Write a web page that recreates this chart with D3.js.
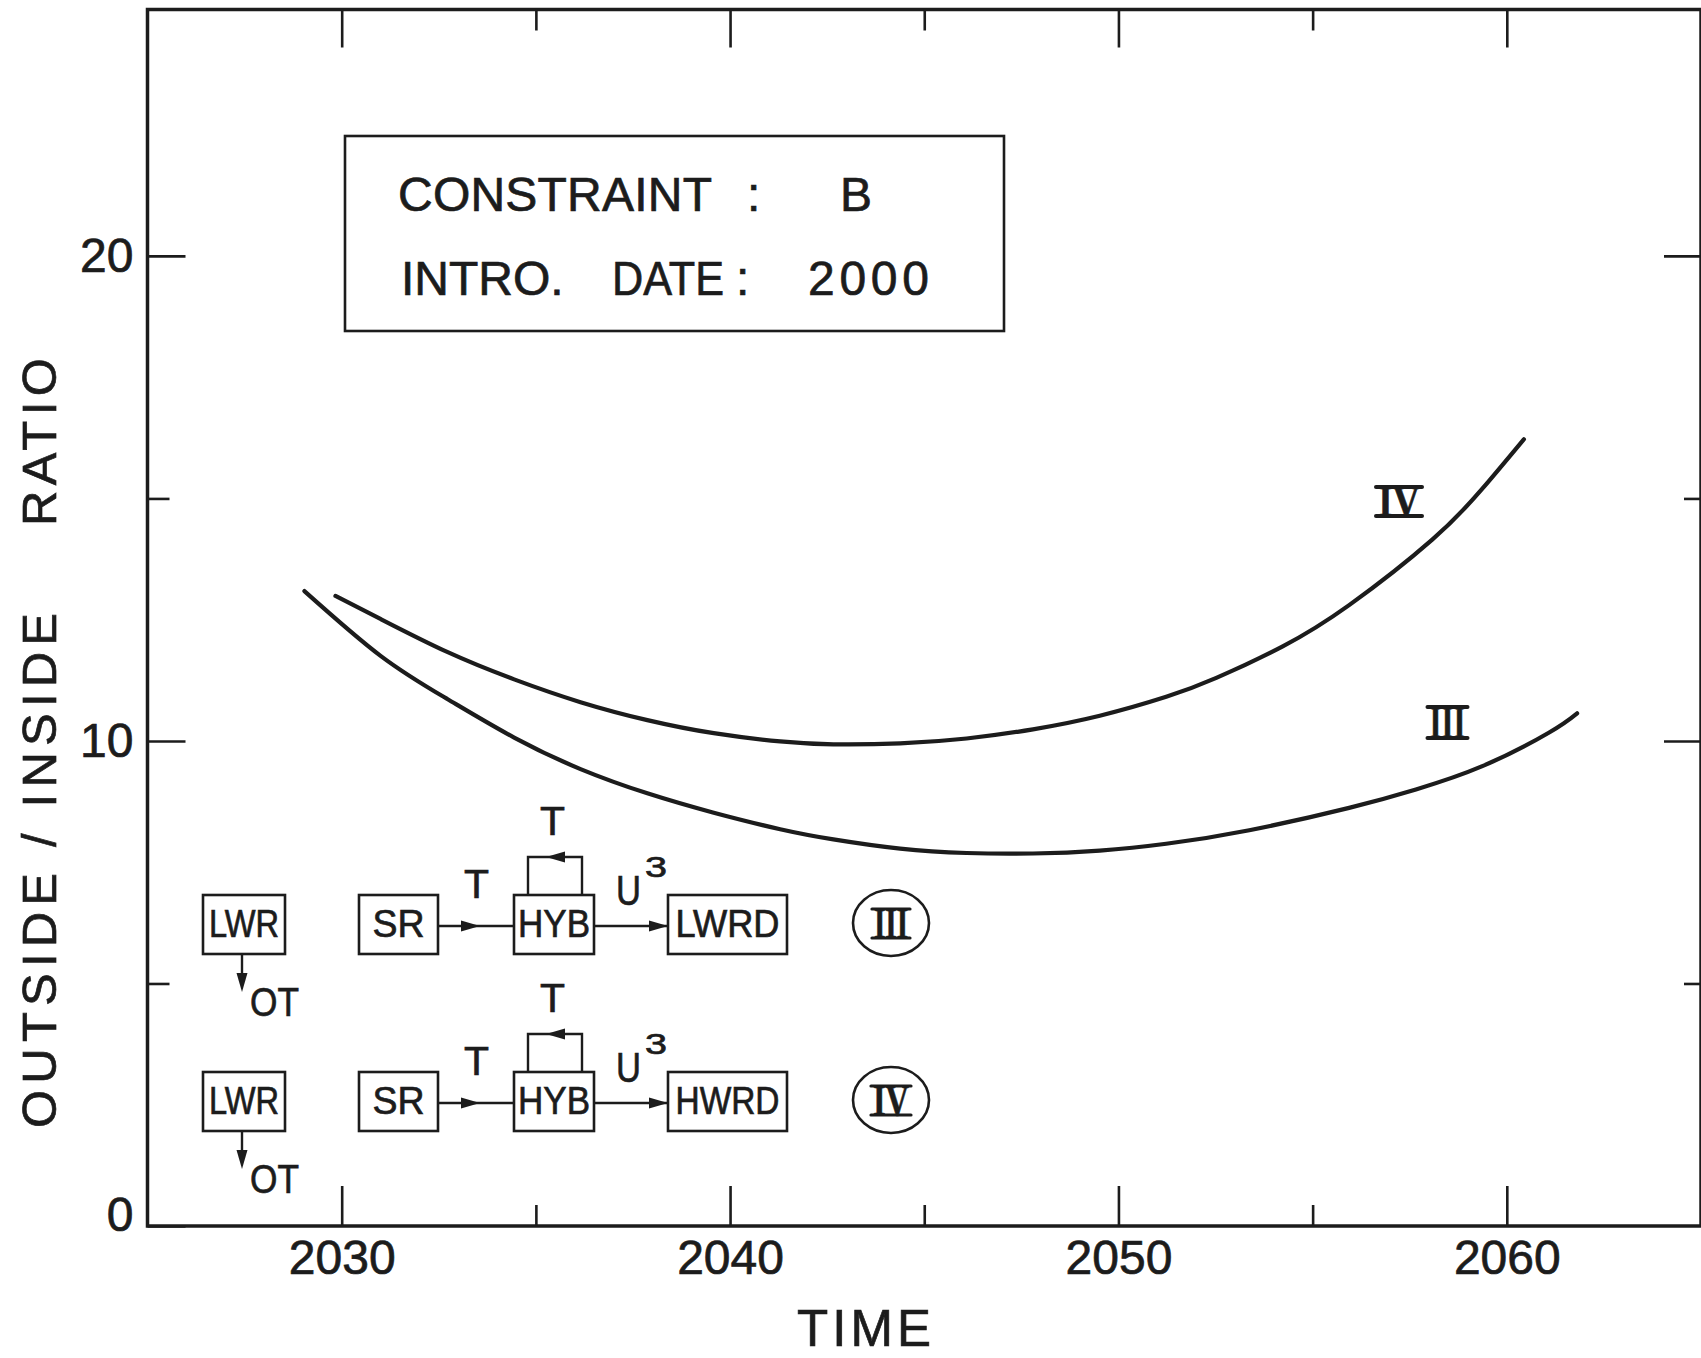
<!DOCTYPE html>
<html>
<head>
<meta charset="utf-8">
<script src="https://cdn.jsdelivr.net/npm/d3@7"></script>
<style>
  body { margin: 0; background: #fff; }
  svg { display: block; }
  svg text { stroke: #1c1c1c; stroke-width: 0.7px; }
</style>
</head>
<body>
<svg id="chart" width="1701" height="1358"></svg>
<script>
// ---- data ----
const majorYears = [2030, 2040, 2050, 2060];
const minorYears = [2035, 2045, 2055];
const majorRatios = [0, 10, 20];
const minorRatios = [5, 15];

// Outside / inside ratio over time, case III (SR -> HYB -> LWRD)
const caseIII = [
  [2029.04, 13.09], [2031.01, 11.75], [2032.73, 10.86], [2034.44, 10.07],
  [2036.15, 9.42], [2037.87, 8.92], [2039.58, 8.52], [2041.29, 8.18],
  [2042.66, 7.97], [2044.38, 7.78], [2046.09, 7.69], [2047.80, 7.68],
  [2049.52, 7.74], [2051.23, 7.88], [2053.37, 8.16], [2055.94, 8.62],
  [2057.66, 9.00], [2059.37, 9.48], [2061.08, 10.17], [2061.81, 10.57]
];
// case IV (SR -> HYB -> HWRD)
const caseIV = [
  [2029.84, 12.99], [2031.01, 12.51], [2032.73, 11.83], [2034.44, 11.27],
  [2036.15, 10.80], [2037.87, 10.43], [2039.58, 10.16], [2041.29, 9.99],
  [2042.66, 9.93], [2044.38, 9.95], [2046.09, 10.05], [2047.80, 10.24],
  [2049.52, 10.52], [2051.23, 10.91], [2052.52, 11.30], [2054.23, 11.95],
  [2055.94, 12.80], [2058.08, 14.15], [2059.37, 15.20], [2060.44, 16.22]
];

const schemeNumerals = ["III", "IV"];
const schemeProducts = ["LWRD", "HWRD"];

// ---- setup ----
const ink = "#1c1c1c";
const sans = "'Liberation Sans', Arial, sans-serif";
const serif = "'Liberation Serif', 'Times New Roman', serif";
const svg = d3.select("#chart");

const x = d3.scaleLinear().domain([2025, 2065]).range([147.5, 1701]);
const y = d3.scaleLinear().domain([0, 25.08]).range([1226, 9.5]);

// plot frame
svg.append("rect")
  .attr("x", x(2025)).attr("y", y(25.08))
  .attr("width", x(2065) - x(2025)).attr("height", y(0) - y(25.08))
  .attr("fill", "none").attr("stroke", ink).attr("stroke-width", 3.5);

function styleAxis(g) {
  g.select(".domain").remove();
  g.selectAll("line").attr("stroke", ink).attr("stroke-width", 2.6);
  g.selectAll("text").attr("fill", ink)
    .style("font-family", sans).style("font-size", "48px");
}

// bottom axis
svg.append("g").attr("transform", `translate(0,${y(0)})`)
  .call(d3.axisBottom(x).tickValues(majorYears).tickSize(-40).tickPadding(14).tickFormat(d3.format("d")))
  .call(styleAxis);
svg.append("g").attr("transform", `translate(0,${y(0)})`)
  .call(d3.axisBottom(x).tickValues(minorYears).tickSize(-21).tickFormat(""))
  .call(styleAxis);
// top axis
svg.append("g").attr("transform", `translate(0,${y(25.08)})`)
  .call(d3.axisTop(x).tickValues(majorYears).tickSize(-38).tickFormat(""))
  .call(styleAxis);
svg.append("g").attr("transform", `translate(0,${y(25.08)})`)
  .call(d3.axisTop(x).tickValues(minorYears).tickSize(-21).tickFormat(""))
  .call(styleAxis);
// left axis
const leftAxis = svg.append("g").attr("transform", `translate(${x(2025)},0)`)
  .call(d3.axisLeft(y).tickValues(majorRatios).tickSize(-38).tickPadding(14).tickFormat(d3.format("d")))
  .call(styleAxis);
leftAxis.selectAll(".tick").filter(d => d === 0).select("text").attr("y", -11);
svg.append("g").attr("transform", `translate(${x(2025)},0)`)
  .call(d3.axisLeft(y).tickValues(minorRatios).tickSize(-22).tickFormat(""))
  .call(styleAxis);
// right axis
svg.append("g").attr("transform", `translate(${x(2065)},0)`)
  .call(d3.axisRight(y).tickValues([10, 20]).tickSize(-37).tickFormat(""))
  .call(styleAxis);
svg.append("g").attr("transform", `translate(${x(2065)},0)`)
  .call(d3.axisRight(y).tickValues(minorRatios).tickSize(-17).tickFormat(""))
  .call(styleAxis);

// axis titles
svg.append("text").attr("x", 797).attr("y", 1346)
  .attr("textLength", 134).attr("lengthAdjust", "spacing")
  .style("font-family", sans).style("font-size", "51px").attr("fill", ink)
  .text("TIME");
svg.append("text").attr("transform", "translate(56,1128) rotate(-90)")
  .attr("textLength", 515).attr("lengthAdjust", "spacing")
  .style("font-family", sans).style("font-size", "49px").attr("fill", ink)
  .text("OUTSIDE / INSIDE");
svg.append("text").attr("transform", "translate(56,526) rotate(-90)")
  .attr("textLength", 168).attr("lengthAdjust", "spacing")
  .style("font-family", sans).style("font-size", "49px").attr("fill", ink)
  .text("RATIO");

// ---- curves ----
const line = d3.line()
  .x(d => x(d[0])).y(d => y(d[1]))
  .curve(d3.curveNatural);
[caseIII, caseIV].forEach(series => {
  svg.append("path").datum(series).attr("d", line)
    .attr("fill", "none").attr("stroke", ink)
    .attr("stroke-width", 4.2).attr("stroke-linecap", "round");
});

// roman numeral with horizontal bars top and bottom
function numeral(cx, baseline, capH, width, str) {
  const g = svg.append("g");
  g.append("text").attr("x", cx).attr("y", baseline).attr("text-anchor", "middle")
    .attr("textLength", width * 0.9).attr("lengthAdjust", "spacingAndGlyphs")
    .style("font-family", serif).style("font-weight", "bold")
    .style("font-size", (capH / 0.66) + "px").attr("fill", ink).text(str);
  [baseline - capH, baseline].forEach(yy => {
    g.append("line").attr("x1", cx - width / 2).attr("x2", cx + width / 2)
      .attr("y1", yy).attr("y2", yy)
      .attr("stroke", ink).attr("stroke-width", 4).attr("stroke-linecap", "round");
  });
}
numeral(1399, 516, 29, 46, "IV");
numeral(1447.5, 738, 31, 40, "III");

// ---- legend box ----
svg.append("rect").attr("x", 345).attr("y", 136).attr("width", 659).attr("height", 195)
  .attr("fill", "none").attr("stroke", ink).attr("stroke-width", 2.6);
function boxText(str, x0, base, len, adjust) {
  const t = svg.append("text").attr("x", x0).attr("y", base)
    .style("font-family", sans).style("font-size", "48px").attr("fill", ink).text(str);
  if (len) t.attr("textLength", len).attr("lengthAdjust", adjust || "spacing");
  return t;
}
boxText("CONSTRAINT", 398, 211, 314);
boxText(":", 747, 211);
boxText("B", 840, 211, 28);
boxText("INTRO.", 401, 295);
boxText("DATE", 612, 295, 112, "spacingAndGlyphs");
boxText(":", 736, 295);
boxText("2000", 808, 295, 121);

// ---- fuel cycle schemes ----
function arrowHead(g, tx, ty, dir) {
  const L = 19, w = 5.5;
  let pts;
  if (dir === "right") pts = [[tx, ty], [tx - L, ty - w], [tx - L, ty + w]];
  else if (dir === "left") pts = [[tx, ty], [tx + L, ty - w], [tx + L, ty + w]];
  else pts = [[tx, ty], [tx - w, ty - L], [tx + w, ty - L]];
  g.append("polygon").attr("points", pts.map(p => p.join(",")).join(" ")).attr("fill", ink);
}
function nodeBox(g, x0, x1, top, h, str, len) {
  g.append("rect").attr("x", x0).attr("y", top).attr("width", x1 - x0).attr("height", h)
    .attr("fill", "none").attr("stroke", ink).attr("stroke-width", 2.6);
  g.append("text").attr("x", (x0 + x1) / 2).attr("y", top + 42).attr("text-anchor", "middle")
    .attr("textLength", len).attr("lengthAdjust", "spacingAndGlyphs")
    .style("font-family", sans).style("font-size", "38px").attr("fill", ink).text(str);
}
function small(g, str, x0, base, size, len) {
  const t = g.append("text").attr("x", x0).attr("y", base)
    .style("font-family", sans).style("font-size", size + "px").attr("fill", ink).text(str);
  if (len) t.attr("textLength", len).attr("lengthAdjust", "spacingAndGlyphs");
}

const rowTops = [895, 1072];
schemeNumerals.forEach((num, i) => {
  const t = rowTops[i];
  const g = svg.append("g");
  const h = 59, mid = t + 31;
  nodeBox(g, 203, 285, t, h, "LWR", 70);
  nodeBox(g, 359, 438, t, h, "SR", 52);
  nodeBox(g, 514, 594, t, h, "HYB", 72);
  nodeBox(g, 668, 787, t, h, schemeProducts[i], 104);

  // LWR -> OT
  g.append("line").attr("x1", 242).attr("x2", 242).attr("y1", t + h).attr("y2", t + 90)
    .attr("stroke", ink).attr("stroke-width", 2.4);
  arrowHead(g, 242, t + 97, "down");
  small(g, "OT", 250, t + 121, 41, 49);

  // SR -> HYB
  g.append("line").attr("x1", 438).attr("x2", 514).attr("y1", mid).attr("y2", mid)
    .attr("stroke", ink).attr("stroke-width", 2.4);
  arrowHead(g, 480, mid, "right");
  small(g, "T", 464, t + 3, 41, 25);

  // HYB recycle loop
  g.append("path").attr("d", `M528,${t} V${t - 38} H582 V${t}`)
    .attr("fill", "none").attr("stroke", ink).attr("stroke-width", 2.4);
  arrowHead(g, 546, t - 38, "left");
  small(g, "T", 540, t - 60, 41, 25);

  // HYB -> product
  g.append("line").attr("x1", 594).attr("x2", 668).attr("y1", mid).attr("y2", mid)
    .attr("stroke", ink).attr("stroke-width", 2.4);
  arrowHead(g, 668, mid, "right");
  small(g, "U", 616, t + 10, 42, 25);
  small(g, "3", 645, t - 18, 30, 22);

  // scheme id
  const cx = 891, cy = t + 28;
  g.append("ellipse").attr("cx", cx).attr("cy", cy).attr("rx", 38).attr("ry", 33)
    .attr("fill", "none").attr("stroke", ink).attr("stroke-width", 2.6);
  const w = num === "III" ? 38 : 40;
  g.append("text").attr("x", cx).attr("y", cy + 15).attr("text-anchor", "middle")
    .attr("textLength", w * 0.9).attr("lengthAdjust", "spacingAndGlyphs")
    .style("font-family", serif).style("font-weight", "bold").style("font-size", "44px")
    .attr("fill", ink).text(num);
  [cy - 14, cy + 15].forEach(yy => {
    g.append("line").attr("x1", cx - w / 2).attr("x2", cx + w / 2).attr("y1", yy).attr("y2", yy)
      .attr("stroke", ink).attr("stroke-width", 3.2).attr("stroke-linecap", "round");
  });
});
</script>
</body>
</html>
